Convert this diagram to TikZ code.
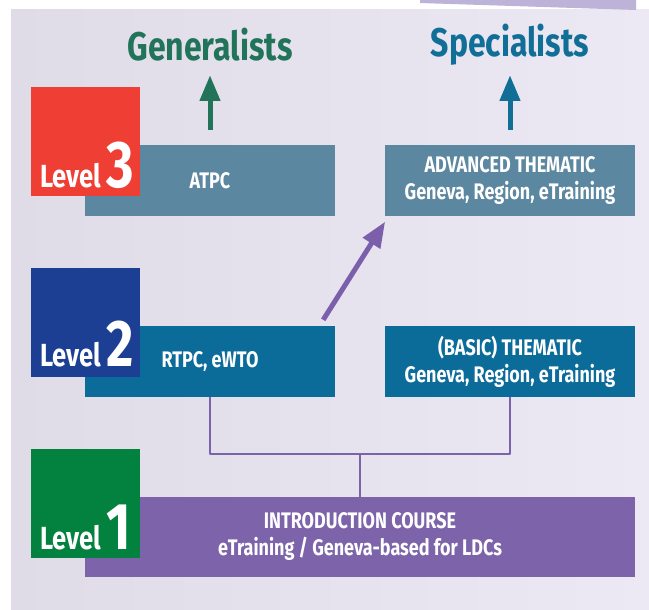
\documentclass[tikz,border=0pt]{standalone}
\usepackage{fontspec}
\setmainfont[FakeStretch=0.8]{Fira Sans}
\usetikzlibrary{arrows}

\begin{document}
\begin{tikzpicture}[line cap=round,line join=round,>=triangle 45,x=1pt,y=-1pt,
box/.style={inner sep=0pt,minimum width=250pt,minimum height=71pt,align=center,text=white,font=\fontsize{22.5}{27}\selectfont\bfseries},
lvl/.style={inner sep=0pt,minimum width=109pt,minimum height=109pt},
lvltext/.style={anchor=base west,inner sep=0pt,text=white,font=\bfseries},
ttl/.style={inner sep=0pt,font=\fontsize{40}{42}\selectfont\bfseries},
conn/.style={color=xbwtaa,line width=1.2pt,line cap=butt},
uparrow/.style={->,line width=5pt,line cap=butt}]
\definecolor{eftett}{HTML}{EF3E33}
\definecolor{rctfzu}{HTML}{1C3F94}
\definecolor{qtyrte}{HTML}{03813E}
\definecolor{xcwtaa}{HTML}{7C63AA}
\definecolor{vbyxaq}{HTML}{5B87A0}
\definecolor{qbwbzz}{HTML}{0B6B99}
\definecolor{srxtva}{HTML}{21735A}
\definecolor{rqwezx}{HTML}{106E97}
\definecolor{xbwtaa}{HTML}{7B63AA}
\definecolor{xbvfab}{HTML}{7B5FAB}
\definecolor{dfdcey}{HTML}{DFDCE8}
\definecolor{ecezfu}{HTML}{ECE9F4}
\definecolor{bdbsdx}{HTML}{BDB2D7}
\useasboundingbox (0,0) rectangle (649,610);
\fill[white] (0,0) rectangle (649,610);
\shade[left color=dfdcey,right color=ecezfu] (11,10) rectangle (649,610);
\fill[bdbsdx] (420,0) -- (636,0) -- (636,10) -- (420,3) -- cycle;
\node[ttl,text=srxtva] (gen) at (210,45) {Generalists};
\node[ttl,text=rqwezx] (spec) at (510,45) {Specialists};
\node[box,fill=vbyxaq] (atpc) at (210,180.5) {ATPC};
\node[box,fill=vbyxaq] (advthem) at (510,180.5) {ADVANCED THEMATIC\\Geneva, Region, eTraining};
\node[box,fill=qbwbzz] (rtpc) at (210,361.5) {RTPC, eWTO};
\node[box,fill=qbwbzz] (basthem) at (510,361.5) {(BASIC) THEMATIC\\Geneva, Region, eTraining};
\node[box,fill=xcwtaa,minimum width=550pt,minimum height=80pt] (intro) at (360,537) {INTRODUCTION COURSE\\eTraining / Geneva-based for LDCs};
\node[lvl,fill=eftett] (lvlthree) at (85.5,141.5) {};
\node[lvl,fill=rctfzu] (lvltwo) at (85.5,322) {};
\node[lvl,fill=qtyrte] (lvlone) at (85.5,503.5) {};
\node[lvltext] (lvlthreetxt) at ([shift={(9pt,9pt)}]lvlthree.south west) {\fontsize{32}{32}\selectfont Level\,\fontsize{66}{66}\selectfont 3};
\node[lvltext] (lvltwotxt) at ([shift={(9pt,10pt)}]lvltwo.south west) {\fontsize{32}{32}\selectfont Level\,\fontsize{66}{66}\selectfont 2};
\node[lvltext] (lvlonetxt) at ([shift={(9pt,9pt)}]lvlone.south west) {\fontsize{32}{32}\selectfont Level\,\fontsize{66}{66}\selectfont 1};
\coordinate (join) at (360,454);
\draw[conn] (rtpc.south) |- (join) -| (basthem.south);
\draw[conn,line width=2pt] (join) -- (intro.north);
\draw[uparrow,srxtva] ([yshift=15pt]atpc.north) -- ++(0,-54);
\draw[uparrow,rqwezx] ([yshift=15pt]advthem.north) -- ++(0,-54);
\draw[uparrow,xbvfab] ([shift={(-12pt,6pt)}]rtpc.north east) -- ([shift={(0pt,-6pt)}]advthem.south west);
\end{tikzpicture}
\end{document}
